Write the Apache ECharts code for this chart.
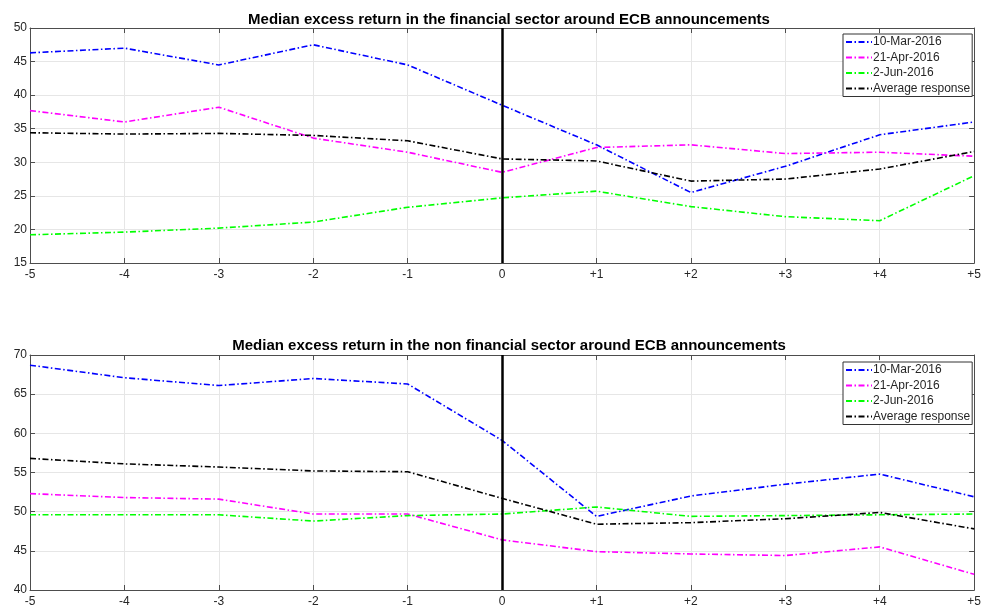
<!DOCTYPE html>
<html><head><meta charset="utf-8">
<script src="https://cdn.jsdelivr.net/npm/echarts@6/dist/echarts.min.js"></script>
<style>html,body{margin:0;padding:0;background:#fff}#c{width:984px;height:609px}</style>
</head><body><div id="c"></div>
<script>
const categories = ['-5','-4','-3','-2','-1','0','+1','+2','+3','+4','+5'];
const seriesNames = ['10-Mar-2016','21-Apr-2016','2-Jun-2016','Average response'];
const titleTop = 'Median excess return in the financial sector around ECB announcements';
const titleBottom = 'Median excess return in the non financial sector around ECB announcements';
// financial sector
const finMar = [46.3, 47.0, 44.5, 47.5, 44.5, 38.5, 32.6, 25.5, 29.4, 34.1, 36.0];
const finApr = [37.7, 36.0, 38.2, 33.6, 31.5, 28.5, 32.2, 32.6, 31.3, 31.5, 30.9];
const finJun = [19.2, 19.6, 20.2, 21.1, 23.3, 24.7, 25.7, 23.4, 21.9, 21.3, 28.0];
const finAvg = [34.4, 34.2, 34.3, 34.0, 33.2, 30.5, 30.2, 27.2, 27.5, 29.0, 31.6];
// non financial sector
const nonMar = [68.7, 67.1, 66.1, 67.0, 66.3, 59.1, 49.4, 52.0, 53.5, 54.8, 51.9];
const nonApr = [52.3, 51.8, 51.6, 49.7, 49.7, 46.4, 44.9, 44.6, 44.4, 45.5, 42.0];
const nonJun = [49.6, 49.6, 49.6, 48.8, 49.5, 49.7, 50.6, 49.4, 49.5, 49.6, 49.7];
const nonAvg = [56.8, 56.1, 55.7, 55.2, 55.1, 51.7, 48.4, 48.6, 49.1, 49.9, 47.8];
const topTicks = {min: 15, max: 50, interval: 5};
const botTicks = {min: 40, max: 70, interval: 5};
const eventCategory = '0';

const colors = ['#0000ff', '#ff00ff', '#00ff00', '#000000'];
const dash = [6, 2.5, 1.5, 2.5];
const axisCol = '#4d4d4d';
const labelCol = '#262626';
const font = 'Liberation Sans, Arial, sans-serif';

function xAx(gi, pos, showLabel) {
  return {
    type: 'category', data: categories, gridIndex: gi, boundaryGap: false, position: pos,
    axisLine: {show: true, lineStyle: {color: axisCol, width: 1}},
    axisTick: {show: true, inside: true, length: 5, lineStyle: {color: axisCol}},
    axisLabel: {show: showLabel, color: labelCol, fontSize: 12, fontFamily: font, margin: 6, showMinLabel: true, showMaxLabel: true, interval: 0},
    splitLine: {show: showLabel, lineStyle: {color: '#e6e6e6', width: 1}}
  };
}
function yAx(gi, pos, showLabel, t) {
  return {
    type: 'value', gridIndex: gi, position: pos, min: t.min, max: t.max, interval: t.interval,
    axisLine: {show: true, lineStyle: {color: axisCol, width: 1}},
    axisTick: {show: true, inside: true, length: 5, lineStyle: {color: axisCol}},
    axisLabel: {show: showLabel, color: labelCol, fontSize: 12, fontFamily: font, margin: 3},
    splitLine: {show: showLabel, lineStyle: {color: '#e6e6e6', width: 1}}
  };
}
function mkSeries(name, data, ci, gi, withMark) {
  const s = {
    name: name, type: 'line', data: data, xAxisIndex: gi * 2, yAxisIndex: gi * 2,
    symbol: 'none', animation: false, silent: true,
    lineStyle: {color: colors[ci], width: 1.6, type: dash},
    itemStyle: {color: colors[ci]}, z: 3
  };
  if (withMark) {
    s.markLine = {symbol: 'none', silent: true, animation: false, label: {show: false},
      lineStyle: {color: '#000', width: 2.5, type: 'solid'}, data: [{xAxis: eventCategory}]};
  }
  return s;
}
const legendBase = {
  orient: 'vertical', left: 843, itemWidth: 26, itemHeight: 12, itemGap: 3.5,
  padding: [2, 2, 2, 2], borderColor: '#333', borderWidth: 1, backgroundColor: '#fff',
  itemStyle: {opacity: 0},
  textStyle: {fontSize: 12, fontFamily: font, color: '#262626', padding: [0, 0, 0, -4]},
  data: seriesNames
};
const chart = echarts.init(document.getElementById('c'), null, {renderer: 'canvas'});
chart.setOption({
  animation: false,
  title: [
    {text: titleTop, left: 504, top: 7, textAlign: 'center', textStyle: {fontSize: 15, fontWeight: 'bold', fontFamily: font, color: '#000'}},
    {text: titleBottom, left: 504, top: 333, textAlign: 'center', textStyle: {fontSize: 15, fontWeight: 'bold', fontFamily: font, color: '#000'}}
  ],
  grid: [
    {left: 30, right: 6, top: 28, height: 235},
    {left: 30, right: 6, top: 355, height: 235}
  ],
  legend: [
    Object.assign({}, legendBase, {top: 34}),
    Object.assign({}, legendBase, {top: 362})
  ],
  xAxis: [xAx(0, 'bottom', true), xAx(0, 'top', false), xAx(1, 'bottom', true), xAx(1, 'top', false)],
  yAxis: [yAx(0, 'left', true, topTicks), yAx(0, 'right', false, topTicks), yAx(1, 'left', true, botTicks), yAx(1, 'right', false, botTicks)],
  series: [
    mkSeries(seriesNames[0], finMar, 0, 0, true),
    mkSeries(seriesNames[1], finApr, 1, 0, false),
    mkSeries(seriesNames[2], finJun, 2, 0, false),
    mkSeries(seriesNames[3], finAvg, 3, 0, false),
    mkSeries(seriesNames[0], nonMar, 0, 1, true),
    mkSeries(seriesNames[1], nonApr, 1, 1, false),
    mkSeries(seriesNames[2], nonJun, 2, 1, false),
    mkSeries(seriesNames[3], nonAvg, 3, 1, false)
  ]
});
</script></body></html>
